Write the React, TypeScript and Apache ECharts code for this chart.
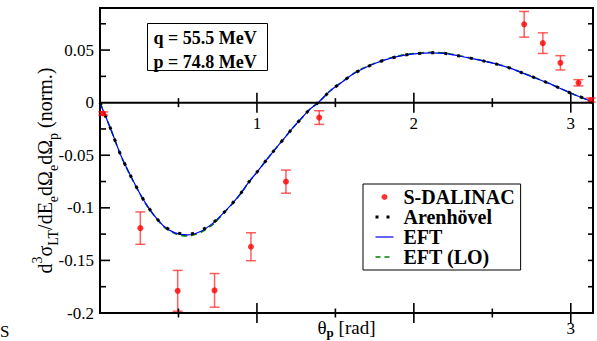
import React, { useEffect, useRef } from "react";
import * as echarts from "echarts";

// Theory curves (theta in rad, normalized d3sigma_LT)
const theta = [0, 0.07, 0.134, 0.208, 0.293, 0.399, 0.478, 0.558, 0.643, 0.718, 0.781, 0.841, 0.898, 0.951, 1.004, 1.057, 1.11, 1.17, 1.223, 1.28, 1.338, 1.39, 1.467, 1.539, 1.61, 1.684, 1.764, 1.849, 1.934, 2.019, 2.108, 2.193, 2.282, 2.367, 2.448, 2.533, 2.618, 2.699, 2.782, 2.862, 2.943, 3.021, 3.102, 3.1416];
const arenhovel = [0, -0.0257, -0.0505, -0.0733, -0.0962, -0.1162, -0.1232, -0.1252, -0.1215, -0.1146, -0.1057, -0.0962, -0.086, -0.075, -0.0654, -0.0552, -0.0454, -0.0346, -0.025, -0.0155, -0.0062, 0, 0.0112, 0.0192, 0.0269, 0.0329, 0.038, 0.0421, 0.045, 0.0467, 0.0474, 0.0469, 0.0446, 0.0421, 0.0395, 0.0364, 0.0326, 0.0278, 0.023, 0.0183, 0.0129, 0.0078, 0.003, 0];
const eft = [0, -0.0257, -0.0505, -0.0733, -0.0962, -0.1164, -0.1238, -0.1258, -0.1222, -0.1148, -0.1057, -0.0962, -0.086, -0.075, -0.0654, -0.0552, -0.0454, -0.0346, -0.025, -0.0155, -0.0062, 0, 0.0112, 0.0192, 0.0269, 0.0329, 0.038, 0.0421, 0.045, 0.0467, 0.0474, 0.0469, 0.0446, 0.0421, 0.0395, 0.0364, 0.0326, 0.0278, 0.023, 0.0183, 0.0129, 0.0078, 0.003, 0];
const eftLo = [0, -0.0258, -0.0507, -0.0736, -0.0966, -0.1168, -0.1245, -0.1268, -0.1232, -0.116, -0.1064, -0.0966, -0.0862, -0.0752, -0.0655, -0.0553, -0.0454, -0.0346, -0.025, -0.0155, -0.0062, 0, 0.0113, 0.0194, 0.0271, 0.0332, 0.0383, 0.0424, 0.0454, 0.047, 0.0478, 0.0473, 0.0449, 0.0423, 0.0396, 0.0365, 0.0327, 0.0279, 0.0231, 0.0183, 0.0129, 0.0078, 0.003, 0];

// S-DALINAC measurements
const sdalX = [0.02, 0.257, 0.495, 0.73, 0.962, 1.185, 1.397, 2.703, 2.822, 2.934, 3.049, 3.127];
const sdalY = [-0.0103, -0.1193, -0.1789, -0.1785, -0.137, -0.0751, -0.0142, 0.0745, 0.0566, 0.0379, 0.0189, 0.0024];
const sdalErr = [0.0015, 0.0154, 0.0194, 0.016, 0.0133, 0.011, 0.0065, 0.0122, 0.0098, 0.0068, 0.003, 0.002];

// Ticks and tick labels
const xMajorTicks = [1, 2, 3];
const xMinorTicks = [0.5, 1.5, 2.5];
const yMajorTicks = [-0.15, -0.1, -0.05, 0.05];
const yMinorTicks = [-0.175, -0.125, -0.075, -0.025, 0.025, 0.075];
const yLabelValues = [-0.2, -0.15, -0.1, -0.05, 0, 0.05];
const xZeroLabelValues = [1, 2, 3];
const xBottomLabelValues = [3];

const FONT = "Liberation Serif";

export default function App() {
  const ref = useRef<HTMLDivElement>(null);
  useEffect(() => {
    if (!ref.current) return;
    const chart = echarts.init(ref.current, undefined, { renderer: "svg" });

    const fmt = (v: number) => String(Number(v.toFixed(3)));

    // kinds: 0 zero-line major, 1 zero-line minor, 2 bottom major, 3 bottom minor,
    // 4 left major, 5 left minor, 6 right major, 7 right minor, 8 zero-line label, 9 zero line
    const tickData: number[][] = [[0, 9]];
    xMajorTicks.forEach((v) => { tickData.push([v, 0]); tickData.push([v, 2]); });
    xMinorTicks.forEach((v) => { tickData.push([v, 1]); tickData.push([v, 3]); });
    yMajorTicks.forEach((v) => { tickData.push([v, 4]); tickData.push([v, 6]); });
    yMinorTicks.forEach((v) => { tickData.push([v, 5]); tickData.push([v, 7]); });
    xZeroLabelValues.forEach((v) => tickData.push([v, 8]));

    const lineLegend = (name: string, ls: any) => ({ name, itemStyle: { opacity: 0 }, lineStyle: ls });

    const option: any = {
      animation: false,
      backgroundColor: "#fff",
      grid: {
        left: 100, right: 4, top: 8, bottom: 28, show: true, borderColor: "#000", borderWidth: 2,
        backgroundColor: "transparent", containLabel: false, outerBoundsMode: "none",
      },
      xAxis: [
        {
          type: "value", position: "bottom", min: 0, max: Math.PI, interval: 1,
          axisLine: { show: false, onZero: false }, axisTick: { show: false }, splitLine: { show: false },
          axisLabel: {
            margin: 7, fontFamily: FONT, fontSize: 17, color: "#000",
            formatter: (v: number) => (xBottomLabelValues.some((t) => Math.abs(t - v) < 1e-6) ? fmt(v) : ""),
          },
          name: "{t|θ}{s|p}{t| [rad]}", nameLocation: "middle", nameGap: 2, nameMoveOverlap: false,
          nameTextStyle: {
            rich: {
              t: { fontFamily: FONT, fontSize: 19, color: "#000", lineHeight: 24, verticalAlign: "middle" },
              s: { fontFamily: FONT, fontSize: 13, color: "#000", lineHeight: 13, verticalAlign: "bottom", fontWeight: "bold" },
            },
          },
        },
      ],
      yAxis: [
        {
          type: "value", min: -0.2, max: 0.09, interval: 0.05,
          axisLine: { show: false, onZero: false }, axisTick: { show: false }, splitLine: { show: false },
          axisLabel: {
            margin: 6, fontFamily: FONT, fontSize: 17, color: "#000",
            formatter: (v: number) => (yLabelValues.some((t) => Math.abs(t - v) < 1e-6) ? fmt(v) : ""),
          },
          name: "{m|d}{sup|3}{m|σ}{sub|LT}{m|/dE}{sub|e}{m|dΩ}{sub|e}{m|dΩ}{sub|p}{m| (norm.)}",
          nameLocation: "middle", nameGap: 40, nameRotate: 90, nameMoveOverlap: false,
          nameTextStyle: {
            padding: [0, 20, 0, 0],
            rich: {
              m: { fontFamily: FONT, fontSize: 20, color: "#000", lineHeight: 30, verticalAlign: "middle" },
              sub: { fontFamily: FONT, fontSize: 14, color: "#000", lineHeight: 14, verticalAlign: "bottom" },
              sup: { fontFamily: FONT, fontSize: 14, color: "#000", lineHeight: 14, verticalAlign: "top" },
            },
          },
        },
      ],
      legend: {
        orient: "vertical", left: 363, top: 184,
        backgroundColor: "#fff", borderColor: "#000", borderWidth: 1, borderRadius: 0,
        padding: [3, 6, 3, 11], itemWidth: 18, itemHeight: 6, itemGap: 0,
        textStyle: { fontFamily: FONT, fontSize: 20, fontWeight: "bold", color: "#000", lineHeight: 20, padding: [0, 0, 0, 5] },
        data: [
          { name: "S-DALINAC", icon: "circle" },
          lineLegend("Arenhövel", { color: "#000", width: 3, type: [3, 8] }),
          lineLegend("EFT", { color: "#0000ff", width: 1.2, type: "solid" }),
          lineLegend("EFT (LO)", { color: "#008000", width: 1.6, type: [5, 4] }),
        ],
      },
      graphic: [
        {
          type: "group", left: 147, top: 23,
          children: [
            { type: "rect", shape: { x: 0, y: 0, width: 120, height: 47 }, style: { fill: "#fff", stroke: "#000", lineWidth: 1 } },
            { type: "text", x: 6, y: 14, style: { text: "q = 55.5 MeV", font: `bold 18px '${FONT}'`, fill: "#000", verticalAlign: "middle" } },
            { type: "text", x: 6, y: 38, style: { text: "p = 74.8 MeV", font: `bold 18px '${FONT}'`, fill: "#000", verticalAlign: "middle" } },
          ],
        },
        { type: "text", left: 0, top: 323, style: { text: "S", font: `17px '${FONT}'`, fill: "#000" } },
      ],
      series: [
        {
          name: "EFT (LO)", type: "line", symbol: "none", smooth: 0.3, z: 3,
          data: theta.map((t, i) => [t, eftLo[i]]),
          lineStyle: { color: "#008000", width: 1.6, type: [6, 4] }, itemStyle: { color: "#008000" },
        },
        {
          name: "EFT", type: "line", symbol: "none", smooth: 0.3, z: 4,
          data: theta.map((t, i) => [t, eft[i]]),
          lineStyle: { color: "#0000ff", width: 1.2 }, itemStyle: { color: "#0000ff" },
        },
        {
          name: "Arenhövel", type: "line", symbol: "none", smooth: 0.3, z: 5,
          data: theta.map((t, i) => [t, arenhovel[i]]),
          lineStyle: { color: "#000", width: 3, type: [3, 10] }, itemStyle: { color: "#000" },
        },
        {
          name: "errbars", type: "custom", z: 6, silent: true,
          data: sdalX.map((x, i) => [x, sdalY[i], sdalErr[i]]),
          encode: { x: 0, y: 1 },
          renderItem: (params: any, api: any) => {
            const x = api.value(0), y = api.value(1), e = api.value(2);
            const top = api.coord([x, y + e]);
            const bot = api.coord([x, y - e]);
            const w = 5;
            const st = { stroke: "rgba(255,40,40,0.75)", lineWidth: 1.5 };
            return {
              type: "group",
              children: [
                { type: "line", shape: { x1: top[0], y1: top[1], x2: bot[0], y2: bot[1] }, style: st },
                { type: "line", shape: { x1: top[0] - w, y1: top[1], x2: top[0] + w, y2: top[1] }, style: st },
                { type: "line", shape: { x1: bot[0] - w, y1: bot[1], x2: bot[0] + w, y2: bot[1] }, style: st },
              ],
            };
          },
        },
        {
          name: "S-DALINAC", type: "scatter", symbol: "circle", symbolSize: 6, z: 7,
          data: sdalX.map((x, i) => [x, sdalY[i]]),
          itemStyle: { color: "#ff0000" },
        },
        {
          name: "axes", type: "custom", z: 8, silent: true,
          data: tickData,
          encode: { x: 0, y: 1 },
          renderItem: (params: any, api: any) => {
            const v = api.value(0), k = api.value(1);
            const cs = params.coordSys;
            let shape: any;
            let lw = 1.6;
            if (k === 8) {
              const p = api.coord([v, 0]);
              return {
                type: "text", x: p[0], y: p[1] + 12,
                style: { text: fmt(v), font: `17px '${FONT}'`, fill: "#000", align: "center", verticalAlign: "top" },
              };
            }
            if (k === 9) {
              const p = api.coord([0, 0]);
              shape = { x1: cs.x, y1: p[1], x2: cs.x + cs.width, y2: p[1] };
              lw = 2;
            } else if (k === 0 || k === 1) {
              const p = api.coord([v, 0]);
              const L = k === 0 ? 10 : 4.5;
              shape = { x1: p[0], y1: p[1] - L, x2: p[0], y2: p[1] + L };
            } else if (k === 2 || k === 3) {
              const p = api.coord([v, 0]);
              const yb = cs.y + cs.height;
              const L = k === 2 ? 10 : 4.5;
              shape = { x1: p[0], y1: yb - L, x2: p[0], y2: yb + L };
            } else if (k === 4 || k === 5) {
              const p = api.coord([0, v]);
              const L = k === 4 ? 10 : 6;
              shape = { x1: cs.x, y1: p[1], x2: cs.x + L, y2: p[1] };
            } else {
              const p = api.coord([0, v]);
              const xr = cs.x + cs.width;
              const L = 5;
              shape = { x1: xr - L, y1: p[1], x2: xr, y2: p[1] };
            }
            return { type: "line", shape, style: { stroke: "#000", lineWidth: lw } };
          },
        },
      ],
    };
    chart.setOption(option);
    return () => chart.dispose();
  }, []);
  return <div ref={ref} style={{ position: "absolute", left: 0, top: 0, width: 597, height: 341 }} />;
}
